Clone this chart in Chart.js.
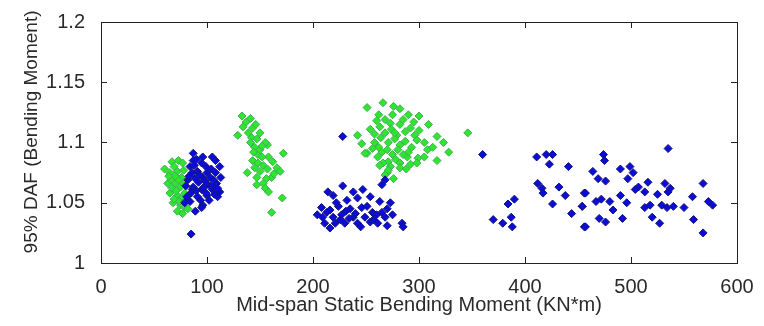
<!DOCTYPE html>
<html>
<head>
<meta charset="utf-8">
<script src="https://cdn.jsdelivr.net/npm/chart.js@4.4.1/dist/chart.umd.min.js"></script>
<style>
  html, body { margin: 0; padding: 0; background: #fff; }
  canvas { display: block; }
</style>
</head>
<body>
<canvas id="dafChart" width="764" height="326"></canvas>
<script>
// values (x = static moment, y = 95% DAF)
const greenX = [60, 67, 73, 77, 65, 72, 76, 63, 70, 75, 65, 72, 76, 68, 75, 79, 72, 67, 73, 69, 78, 70, 66, 78, 71, 79, 69, 74, 80, 77, 82, 64,
  133, 141, 134, 143, 129, 150, 142, 157, 145, 172, 148, 158, 143, 153, 166, 169, 138, 147, 161, 153, 147, 155, 158, 171, 161, 141, 150, 155,
  137, 146, 139, 147, 152, 144, 152, 162, 148, 157, 150, 163, 145, 156,
  251, 266, 276, 282, 262, 275, 290, 254, 263, 273, 282, 292, 309, 242, 268, 279, 296, 317, 346, 258, 271, 282, 298, 305, 323,
  251, 265, 275, 289, 299, 328, 271, 282, 317, 249, 266, 273, 282, 298, 270, 268, 271,
  260, 268, 285, 295, 258, 264, 274, 287, 300, 262, 277, 287, 293, 256, 270, 280, 290, 261, 278, 292, 308, 305, 313, 277, 285, 263, 276, 288, 246, 300];
const greenY = [1.078, 1.084, 1.085, 1.083, 1.075, 1.076, 1.071, 1.066, 1.066, 1.063, 1.058, 1.056, 1.054, 1.050, 1.048, 1.046, 1.043, 1.062, 1.069, 1.080, 1.077, 1.072, 1.069, 1.066, 1.060, 1.058, 1.053, 1.051, 1.052, 1.041, 1.045, 1.072,
  1.122, 1.120, 1.113, 1.112, 1.106, 1.108, 1.104, 1.098, 1.096, 1.091, 1.090, 1.088, 1.085, 1.081, 1.079, 1.076, 1.075, 1.071, 1.071, 1.066, 1.065, 1.062, 1.059, 1.054, 1.042, 1.100, 1.094, 1.100,
  1.117, 1.115, 1.108, 1.103, 1.097, 1.092, 1.088, 1.084, 1.083, 1.078, 1.076, 1.074, 1.079, 1.070,
  1.129, 1.133, 1.130, 1.128, 1.123, 1.123, 1.123, 1.111, 1.113, 1.116, 1.115, 1.112, 1.115, 1.106, 1.108, 1.106, 1.106, 1.105, 1.108, 1.100, 1.100, 1.098, 1.102, 1.100, 1.100,
  1.091, 1.092, 1.090, 1.088, 1.087, 1.092, 1.084, 1.083, 1.085, 1.091, 1.083, 1.080, 1.079, 1.083, 1.075, 1.073, 1.077,
  1.118, 1.119, 1.119, 1.117, 1.107, 1.104, 1.111, 1.109, 1.110, 1.096, 1.103, 1.101, 1.096, 1.095, 1.094, 1.094, 1.092, 1.088, 1.086, 1.082, 1.094, 1.088, 1.096, 1.108, 1.090, 1.081, 1.070, 1.078, 1.099, 1.122];

const blueX = [87, 96, 105, 112, 95, 84, 91, 100, 108, 82, 92, 101, 109, 86, 95, 105, 112, 81, 91, 100, 110, 84, 96, 89, 95, 79, 85, 87, 86, 106, 96, 87, 108,
  90, 99, 104, 83, 89, 98, 104, 90, 99, 107, 85, 94, 102, 110, 93, 80, 97, 103, 88, 113,
  228, 238, 247, 214, 219, 265, 268, 232, 242, 254, 263, 273, 208, 216, 224, 235, 246, 256, 209, 219, 227, 238, 249, 260, 265,
  211, 221, 230, 242, 254, 261, 284, 285, 268, 216, 204, 228, 213, 231, 251, 222, 240, 270, 257, 234, 245, 270, 275, 226,
  360, 411, 420, 426, 423, 441, 412, 416, 417, 432, 438, 456, 426, 454, 444, 456, 390, 384, 387, 370, 379, 388,
  535, 474, 475, 464, 490, 499, 502, 469, 476, 497, 516, 507, 504, 532, 537, 535, 568, 457, 513, 525, 490, 467, 472, 480, 496,
  513, 518, 529, 534, 540, 550, 558, 573, 577, 454, 483, 492, 470, 476, 520, 527, 559, 568, 457];
const blueY = [1.091, 1.088, 1.088, 1.080, 1.083, 1.080, 1.076, 1.075, 1.075, 1.069, 1.067, 1.065, 1.066, 1.061, 1.061, 1.061, 1.059, 1.055, 1.055, 1.056, 1.055, 1.051, 1.048, 1.043, 1.046, 1.050, 1.024, 1.085, 1.075, 1.069, 1.071, 1.063, 1.085,
  1.086, 1.080, 1.078, 1.072, 1.070, 1.068, 1.064, 1.060, 1.058, 1.057, 1.058, 1.052, 1.052, 1.062, 1.073, 1.064, 1.063, 1.071, 1.081, 1.071,
  1.064, 1.059, 1.061, 1.059, 1.056, 1.065, 1.069, 1.052, 1.054, 1.055, 1.051, 1.050, 1.046, 1.044, 1.047, 1.045, 1.046, 1.042, 1.038, 1.038, 1.040, 1.038, 1.038, 1.040, 1.042,
  1.033, 1.033, 1.033, 1.033, 1.034, 1.033, 1.033, 1.030, 1.038, 1.029, 1.040, 1.105, 1.042, 1.043, 1.047, 1.050, 1.041, 1.045, 1.036, 1.037, 1.030, 1.031, 1.040, 1.036,
  1.090, 1.088, 1.090, 1.090, 1.082, 1.080, 1.066, 1.062, 1.058, 1.063, 1.056, 1.058, 1.049, 1.047, 1.041, 1.030, 1.053, 1.049, 1.038, 1.036, 1.033, 1.030,
  1.095, 1.090, 1.085, 1.076, 1.078, 1.080, 1.075, 1.070, 1.068, 1.070, 1.067, 1.063, 1.061, 1.066, 1.062, 1.059, 1.066, 1.058, 1.059, 1.057, 1.056, 1.051, 1.053, 1.051, 1.050,
  1.046, 1.048, 1.048, 1.046, 1.047, 1.046, 1.055, 1.051, 1.048, 1.047, 1.044, 1.037, 1.037, 1.034, 1.038, 1.033, 1.036, 1.025, 1.030];

const xTicks = [0, 100, 200, 300, 400, 500, 600];
const yTicks = [1, 1.05, 1.1, 1.15, 1.2];
const yTickLabels = ['1', '1.05', '1.1', '1.15', '1.2'];

function toPoints(xs, ys) {
  return xs.map((x, i) => ({ x: x, y: ys[i] }));
}

// matlab style box with inward ticks on all four sides
const boxPlugin = {
  id: 'matlabBox',
  afterDraw(chart) {
    const ctx = chart.ctx;
    const a = chart.chartArea;
    const xs = chart.scales.x, ys = chart.scales.y;
    const len = 6;
    ctx.save();
    ctx.strokeStyle = '#222';
    ctx.lineWidth = 1;
    ctx.strokeRect(Math.round(a.left) + 0.5, Math.round(a.top) + 0.5, Math.round(a.right - a.left), Math.round(a.bottom - a.top));
    ctx.beginPath();
    xTicks.forEach(v => {
      const px = Math.round(xs.getPixelForValue(v)) + 0.5;
      ctx.moveTo(px, a.bottom); ctx.lineTo(px, a.bottom - len);
      ctx.moveTo(px, a.top); ctx.lineTo(px, a.top + len);
    });
    yTicks.forEach(v => {
      const py = Math.round(ys.getPixelForValue(v)) + 0.5;
      ctx.moveTo(a.left, py); ctx.lineTo(a.left + len, py);
      ctx.moveTo(a.right, py); ctx.lineTo(a.right - len, py);
    });
    ctx.stroke();
    ctx.restore();
  }
};

const fontFam = '"Liberation Sans", Arial, sans-serif';
const textColor = '#2a2a2a';

new Chart(document.getElementById('dafChart').getContext('2d'), {
  type: 'scatter',
  data: {
    datasets: [
      {
        label: 'blue',
        data: toPoints(blueX, blueY),
        pointStyle: 'rectRot',
        pointRadius: 4,
        backgroundColor: '#0c0cd8',
        borderColor: '#14147a',
        borderWidth: 1,
        order: 0
      },
      {
        label: 'green',
        data: toPoints(greenX, greenY),
        pointStyle: 'rectRot',
        pointRadius: 4,
        backgroundColor: '#2ee62e',
        borderColor: '#3fae55',
        borderWidth: 1,
        order: 1
      }
    ]
  },
  options: {
    responsive: false,
    animation: false,
    devicePixelRatio: 1,
    layout: { padding: { top: 22, right: 27, left: 0, bottom: 0 } },
    plugins: {
      legend: { display: false },
      tooltip: { enabled: false }
    },
    scales: {
      x: {
        type: 'linear',
        min: 0,
        max: 600,
        afterFit: s => { s.height = 63; },
        afterBuildTicks: s => { s.ticks = xTicks.map(v => ({ value: v })); },
        grid: { display: false },
        border: { display: false },
        ticks: {
          padding: 4,
          color: textColor,
          font: { family: fontFam, size: 20 },
          maxRotation: 0
        },
        title: {
          display: true,
          text: 'Mid-span Static Bending Moment (KN*m)',
          color: textColor,
          font: { family: fontFam, size: 20 },
          padding: { top: 0, bottom: 9 }
        }
      },
      y: {
        type: 'linear',
        min: 1,
        max: 1.2,
        afterFit: s => { s.width = 101; },
        afterBuildTicks: s => { s.ticks = yTicks.map(v => ({ value: v })); },
        grid: { display: false },
        border: { display: false },
        ticks: {
          padding: 8,
          color: textColor,
          font: { family: fontFam, size: 20 },
          callback: (v, i) => yTickLabels[i]
        },
        title: {
          display: true,
          text: '    95% DAF (Bending Moment)',
          color: textColor,
          font: { family: fontFam, size: 19 },
          padding: { top: 20, bottom: 0 }
        }
      }
    }
  },
  plugins: [boxPlugin]
});
</script>
</body>
</html>
